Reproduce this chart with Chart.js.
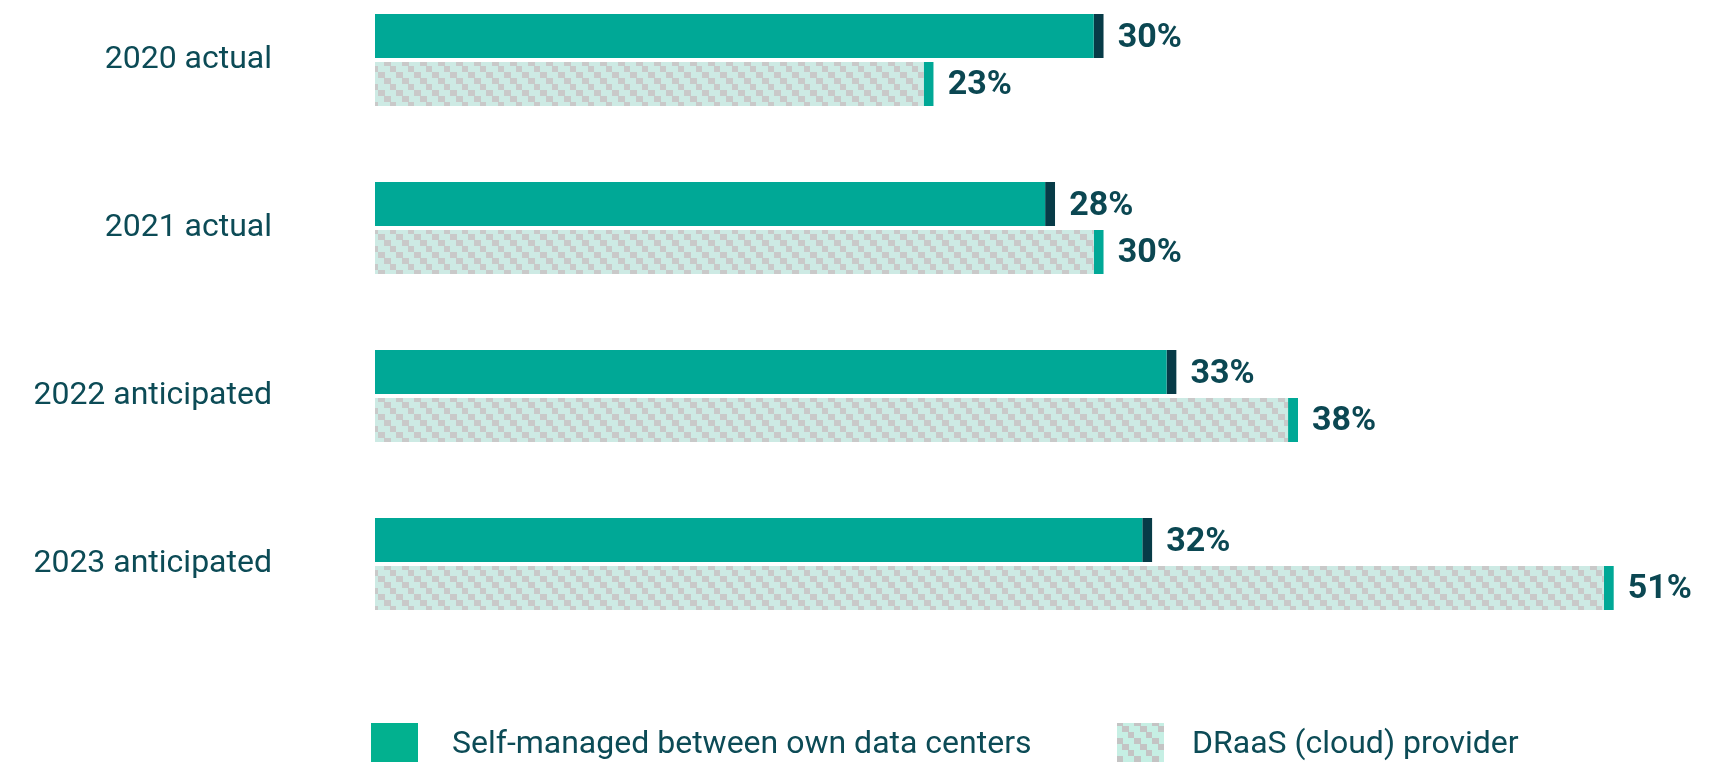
<!DOCTYPE html>
<html><head><meta charset="utf-8">
<script src="https://cdn.jsdelivr.net/npm/chart.js@4.4.1/dist/chart.umd.min.js"></script>
<style>html,body{margin:0;padding:0;background:#fff;overflow:hidden}#wrap{width:1711px;height:762px;position:relative}</style>
</head><body><div id="wrap"><canvas id="c" width="1711" height="762"></canvas></div>
<script>
// ---- data ----
const categories = ['2020 actual', '2021 actual', '2022 anticipated', '2023 anticipated'];
const seriesNames = ['Self-managed between own data centers', 'DRaaS (cloud) provider'];
const selfManaged = [30, 28, 33, 32];
const draasProvider = [23, 30, 38, 51];

// ---- styling ----
const TEXT = '#0c4b56';
const canvas = document.getElementById('c');
const ctx = canvas.getContext('2d');

function makePattern(bg, fg, cell) {
  const t = document.createElement('canvas');
  t.width = cell * 3; t.height = cell * 3;
  const g = t.getContext('2d');
  g.fillStyle = bg; g.fillRect(0, 0, t.width, t.height);
  g.fillStyle = fg;
  for (let r = 0; r < 3; r++) g.fillRect(r * cell, r * cell, cell + 1, cell);
  return ctx.createPattern(t, 'repeat');
}
const barPattern = makePattern('#cdeae4', '#c9c9c9', 6);
const legendPattern = makePattern('#c6efe4', '#c4c4c4', 6);
const legendFills = ['#02b18f', legendPattern];

const valueLabels = {
  id: 'valueLabels',
  afterDatasetsDraw(chart) {
    const c = chart.ctx;
    c.save();
    c.font = 'bold 34px Roboto';
    c.fillStyle = '#0b4752';
    c.textAlign = 'left';
    c.textBaseline = 'middle';
    chart.data.datasets.forEach((ds, i) => {
      chart.getDatasetMeta(i).data.forEach((bar, j) => {
        c.fillText(ds.data[j] + '%', bar.x + 14, bar.y + 2);
      });
    });
    c.restore();
  }
};

const customLegend = {
  id: 'customLegend',
  afterDraw(chart) {
    const c = chart.ctx;
    const spots = [{bx: 371, tx: 452}, {bx: 1117, tx: 1192}];
    c.save();
    c.font = '32px Roboto';
    c.textAlign = 'left';
    c.textBaseline = 'middle';
    chart.data.datasets.forEach((ds, i) => {
      const s = spots[i];
      c.fillStyle = legendFills[i];
      c.fillRect(s.bx, 723, 47, 48);
      c.fillStyle = TEXT;
      c.fillText(ds.label, s.tx, 745);
    });
    c.restore();
  }
};

new Chart(ctx, {
  type: 'bar',
  data: {
    labels: categories,
    datasets: [
      {
        label: seriesNames[0],
        data: selfManaged,
        backgroundColor: '#00a896',
        borderColor: '#073b47',
        borderWidth: {top: 0, right: 10, bottom: 0, left: 0},
        borderSkipped: false,
        clip: false
      },
      {
        label: seriesNames[1],
        data: draasProvider,
        backgroundColor: barPattern,
        borderColor: '#00a896',
        borderWidth: {top: 0, right: 10, bottom: 0, left: 0},
        borderSkipped: false,
        clip: false
      }
    ]
  },
  options: {
    indexAxis: 'y',
    responsive: false,
    animation: false,
    devicePixelRatio: 1,
    categoryPercentage: 0.571,
    barPercentage: 0.917,
    layout: {padding: {top: 60, bottom: 198, left: 0, right: 0}},
    plugins: {legend: {display: false}, tooltip: {enabled: false}},
    scales: {
      x: {display: false, min: 0, max: 55},
      y: {
        offset: false,
        grid: {display: true, drawOnChartArea: false, drawTicks: true, tickLength: 103, color: 'rgba(0,0,0,0)'},
        border: {display: false},
        ticks: {font: {family: 'Roboto', size: 32}, color: TEXT, padding: 0},
        afterFit(scale) { scale.width = 375; }
      }
    }
  },
  plugins: [valueLabels, customLegend]
});
</script>
</body></html>
